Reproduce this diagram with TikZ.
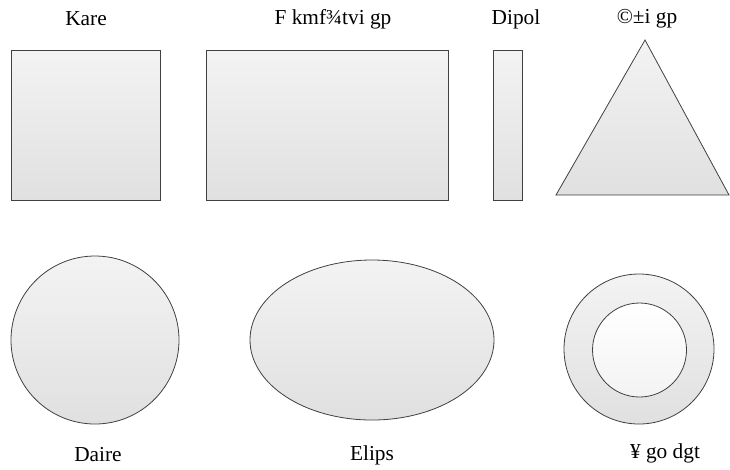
\documentclass[tikz,border=0pt]{standalone}
\usepackage{fontspec}
\setmainfont{Liberation Serif}
\usetikzlibrary{shapes.geometric}
\definecolor{edge}{HTML}{404040}
\definecolor{fillTop}{HTML}{F3F3F3}
\definecolor{fillBot}{HTML}{E0E0E0}
\tikzset{
  shapebox/.style={draw=edge, line width=0.6pt, top color=fillTop, bottom color=fillBot, inner sep=0pt},
  caption/.style={font=\fontsize{16}{18}\selectfont, inner sep=0pt}
}
\begin{document}
\begin{tikzpicture}[x=0.75pt, y=-0.75pt]
    \useasboundingbox (0,0) rectangle (730,469);
    % top row
    \node [shapebox, rectangle, minimum width=111.75pt, minimum height=112.5pt] (kare) at (85.5,125) {};
    \node [shapebox, rectangle, minimum width=181.5pt, minimum height=112.5pt] (dikdortgen) at (327,125) {};
    \node [shapebox, rectangle, minimum width=21.75pt, minimum height=112.5pt] (dipol) at (507.5,125) {};
    \coordinate (t1) at (645,40);
    \coordinate (t2) at (556,195);
    \coordinate (t3) at (729,195);
    \draw [shapebox] (t1) -- (t2) -- (t3) -- cycle;

    \node [caption] (kareText) at (86,19) {Kare};
    \node [caption] (dikText) at (333,19) {F kmf¾tvi gp};
    \node [caption] (dipolText) at (516,19) {Dipol};
    \node [caption] (ucgenText) at (647,19) {©±i gp};

    % bottom row
    \node [shapebox, circle, minimum size=126pt] (daire) at (95,340) {};
    \node [shapebox, ellipse, minimum width=183pt, minimum height=120pt] (elips) at (372,340) {};
    \node [shapebox, circle, minimum size=112.5pt] (halkaDis) at (639,349) {};
    \node [draw=edge, line width=0.6pt, top color=white, bottom color=fillTop, circle, inner sep=0pt, minimum size=70.5pt] (halkaIc) at (639.5,350) {};

    \node [caption] (daireText) at (98,455) {Daire};
    \node [caption] (elipsText) at (372,455) {Elips};
    \node [caption] (halkaText) at (665,453) {¥ go dgt};
\end{tikzpicture}
\end{document}
